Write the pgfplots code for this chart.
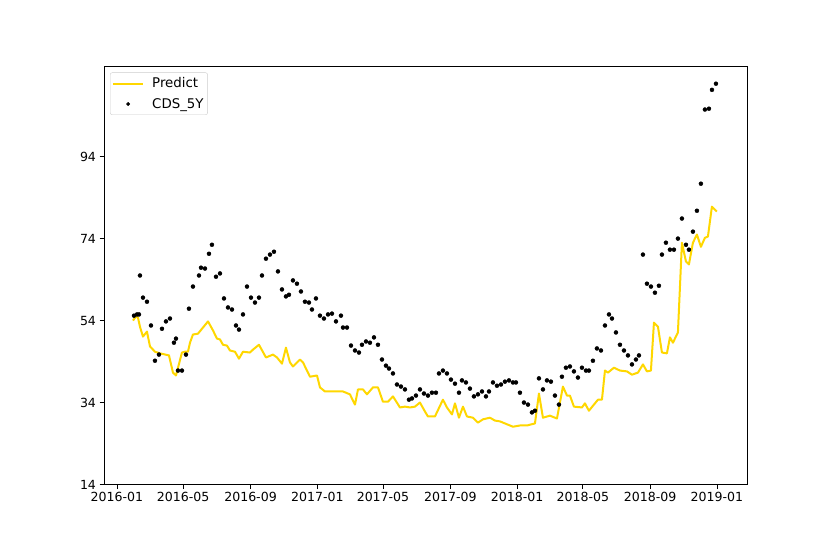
\documentclass[border=0pt]{standalone}
\usepackage{fontspec}
\setmainfont{DejaVu Sans}
\usepackage{pgfplots}
\pgfplotsset{compat=1.18}
\definecolor{predgold}{RGB}{255,215,0}
\pgfplotsset{
  linelegend/.style={legend image code/.code={\draw[##1] (0bp,0bp) -- (30bp,0bp);}},
  dotlegend/.style={legend image code/.code={\draw[mark repeat=2,mark phase=2,##1,mark size=1.7bp] plot coordinates {(0bp,0bp) (15bp,0bp) (30bp,0bp)};}},
}

\begin{document}
\begin{tikzpicture}
\path[use as bounding box] (0,0) rectangle (830bp,554bp);
\begin{axis}[
  at={(104bp,69.5bp)}, anchor=south west,
  scale only axis, width=643bp, height=418bp,
  % x is days since 2016-01-01
  xmin=-23.7, xmax=1151, ymin=14, ymax=116,
  xtick={0,121,244,366,486,609,731,851,974,1096},
  xticklabels={2016-01,2016-05,2016-09,2017-01,2017-05,2017-09,2018-01,2018-05,2018-09,2019-01},
  ytick={14,34,54,74,94},
  tick align=outside, tick pos=left,
  major tick length=4.5bp,
  every tick/.style={black, line width=0.8bp},
  axis line style={line width=0.8bp},
  tick label style={font=\fontsize{12.6}{15}\selectfont},
  /pgf/number format/assume math mode=true,
  legend cell align=left,
  legend style={at={(0,1)}, anchor=north west, xshift=6bp, yshift=-6bp,
    draw=black!20, rounded corners=2bp, fill=white,
    font=\fontsize{13.4}{16}\selectfont, inner xsep=2bp, inner ysep=3bp,
    row sep=5bp, /tikz/every odd column/.append style={column sep=6bp}},
]
% Predict
\addplot[predgold, line width=2bp, line join=round, linelegend] coordinates {
  (29.2,54.0) (34.7,55.0) (38.4,54.7) (42.0,52.5) (47.5,50.1) (54.8,51.3)
  (60.3,47.7) (69.4,46.4) (78.6,46.0) (95.0,45.5) (102.3,41.3) (107.8,40.6)
  (118.7,46.2) (124.2,46.4) (129.7,46.4) (133.4,48.6) (138.8,50.6) (148.0,50.8)
  (157.1,52.3) (166.3,53.8) (175.4,51.6) (182.7,49.6) (188.2,49.4) (193.6,48.1)
  (200.9,47.9) (206.4,46.7) (215.6,46.4) (222.9,44.7) (230.2,46.4) (243.0,46.2)
  (248.4,46.9) (259.4,48.1) (272.2,45.0) (285.0,45.7) (292.3,45.0) (301.4,43.5)
  (308.7,47.4) (316.0,43.8) (321.5,42.8) (334.3,44.5) (339.8,43.8) (352.6,40.3)
  (365.4,40.6) (370.8,37.7) (380.0,36.7) (412.9,36.7) (425.6,36.0) (434.8,33.5)
  (440.3,37.2) (449.4,37.2) (456.7,36.0) (467.7,37.7) (476.8,37.7) (485.9,34.2)
  (495.1,34.2) (504.2,35.5) (517.0,32.8) (526.1,33.0) (535.3,32.8) (544.4,33.0)
  (553.5,34.0) (562.7,31.8) (568.1,30.6) (580.9,30.6) (595.5,34.7) (602.8,32.8)
  (612.0,31.1) (617.5,33.8) (624.8,30.3) (632.1,33.0) (639.4,30.6) (650.3,30.3)
  (659.5,29.1) (668.6,29.9) (681.4,30.3) (690.5,29.6) (699.7,29.4) (708.8,28.9)
  (723.4,28.1) (736.2,28.4) (749.0,28.4) (763.6,28.9) (770.9,36.2) (778.2,30.3)
  (791.0,30.8) (803.8,30.1) (814.7,37.9) (822.1,35.7) (827.5,35.7) (834.8,33.0)
  (849.5,32.8) (854.9,33.8) (862.2,32.0) (878.7,34.7) (886.0,34.7) (891.5,41.8)
  (897.0,41.3) (907.9,42.5) (918.9,41.8) (931.7,41.6) (940.8,40.8) (951.8,41.3)
  (960.9,43.3) (968.2,41.6) (975.5,41.8) (981.0,53.5) (988.3,52.5) (995.6,46.2)
  (1004.7,46.0) (1010.2,49.9) (1015.7,48.6) (1024.8,51.1) (1032.1,73.0) (1039.5,68.4)
  (1044.9,67.7) (1052.2,73.0) (1059.5,75.0) (1066.8,72.0) (1074.1,74.2) (1079.6,74.5)
  (1086.9,81.8) (1096.0,80.6)
};
\addlegendentry{Predict}
% CDS_5Y
\addplot[only marks, mark=*, mark size=2bp, black, dotlegend] coordinates {
  (31.1,55.2) (36.5,55.5) (40.2,55.5) (42.0,65.0) (47.5,59.6) (54.8,58.6)
  (62.1,52.8) (69.4,44.2) (76.7,45.7) (82.2,52.0) (89.5,53.8) (96.8,54.5)
  (104.1,48.6) (107.8,49.6) (111.4,41.8) (118.7,41.8) (126.0,45.7) (131.5,56.9)
  (138.8,62.3) (149.8,65.0) (153.5,66.9) (160.8,66.7) (168.1,70.3) (173.5,72.5)
  (180.9,64.7) (188.2,65.5) (195.5,59.4) (202.8,57.2) (210.1,56.7) (217.4,52.8)
  (222.9,51.8) (230.2,55.5) (237.5,62.3) (244.8,59.6) (252.1,58.4) (259.4,59.6)
  (264.9,65.0) (272.2,69.1) (279.5,70.1) (286.8,70.8) (294.1,66.0) (301.4,61.6)
  (308.7,59.9) (314.2,60.3) (321.5,63.8) (328.8,63.0) (336.1,61.1) (343.4,58.6)
  (350.7,58.4) (356.2,56.7) (363.5,59.4) (370.8,55.2) (378.1,54.5) (385.5,55.5)
  (392.8,55.7) (400.1,53.8) (409.2,55.2) (412.9,52.3) (420.2,52.3) (427.5,47.9)
  (434.8,46.7) (442.1,46.2) (447.6,48.1) (454.9,48.9) (462.2,48.6) (469.5,49.9)
  (476.8,48.1) (484.1,44.5) (491.4,43.0) (496.9,42.3) (504.2,41.1) (511.5,38.4)
  (518.8,37.9) (526.1,37.2) (533.4,34.7) (538.9,35.0) (546.2,35.7) (553.5,37.2)
  (560.8,36.2) (568.1,35.7) (575.4,36.4) (582.7,36.4) (588.2,41.1) (595.5,41.8)
  (602.8,41.1) (610.1,39.6) (617.5,38.6) (624.8,36.4) (630.2,39.4) (637.5,38.9)
  (644.8,37.4) (652.1,35.5) (659.5,36.0) (666.8,36.7) (674.1,35.5) (679.6,36.7)
  (686.9,38.9) (694.2,38.1) (701.5,38.4) (708.8,39.1) (716.1,39.4) (723.4,38.9)
  (728.9,38.9) (736.2,36.4) (743.5,34.0) (750.8,33.5) (758.1,31.6) (763.6,32.0)
  (770.9,39.9) (778.2,37.2) (785.5,39.4) (792.8,39.1) (800.1,35.7) (807.4,33.5)
  (812.9,40.3) (820.2,42.5) (827.5,42.8) (834.8,41.6) (842.1,40.1) (849.5,42.5)
  (856.8,41.8) (862.2,41.8) (869.5,44.2) (876.8,47.2) (884.2,46.7) (891.5,52.8)
  (898.8,55.5) (904.3,54.5) (911.6,51.1) (918.9,48.1) (926.2,46.7) (933.5,45.5)
  (940.8,43.3) (948.1,44.5) (953.6,45.5) (960.9,70.1) (968.2,63.0) (975.5,62.3)
  (982.8,60.8) (990.1,62.5) (995.6,70.1) (1002.9,73.0) (1010.2,71.3) (1017.5,71.3)
  (1024.8,74.0) (1032.1,78.9) (1039.5,72.5) (1044.9,71.3) (1052.2,75.7) (1059.5,80.8)
  (1066.8,87.4) (1074.1,105.5) (1081.5,105.7) (1087.0,110.3) (1094.3,111.8)
};
\addlegendentry{CDS\_5Y}
\end{axis}
\end{tikzpicture}
\end{document}
